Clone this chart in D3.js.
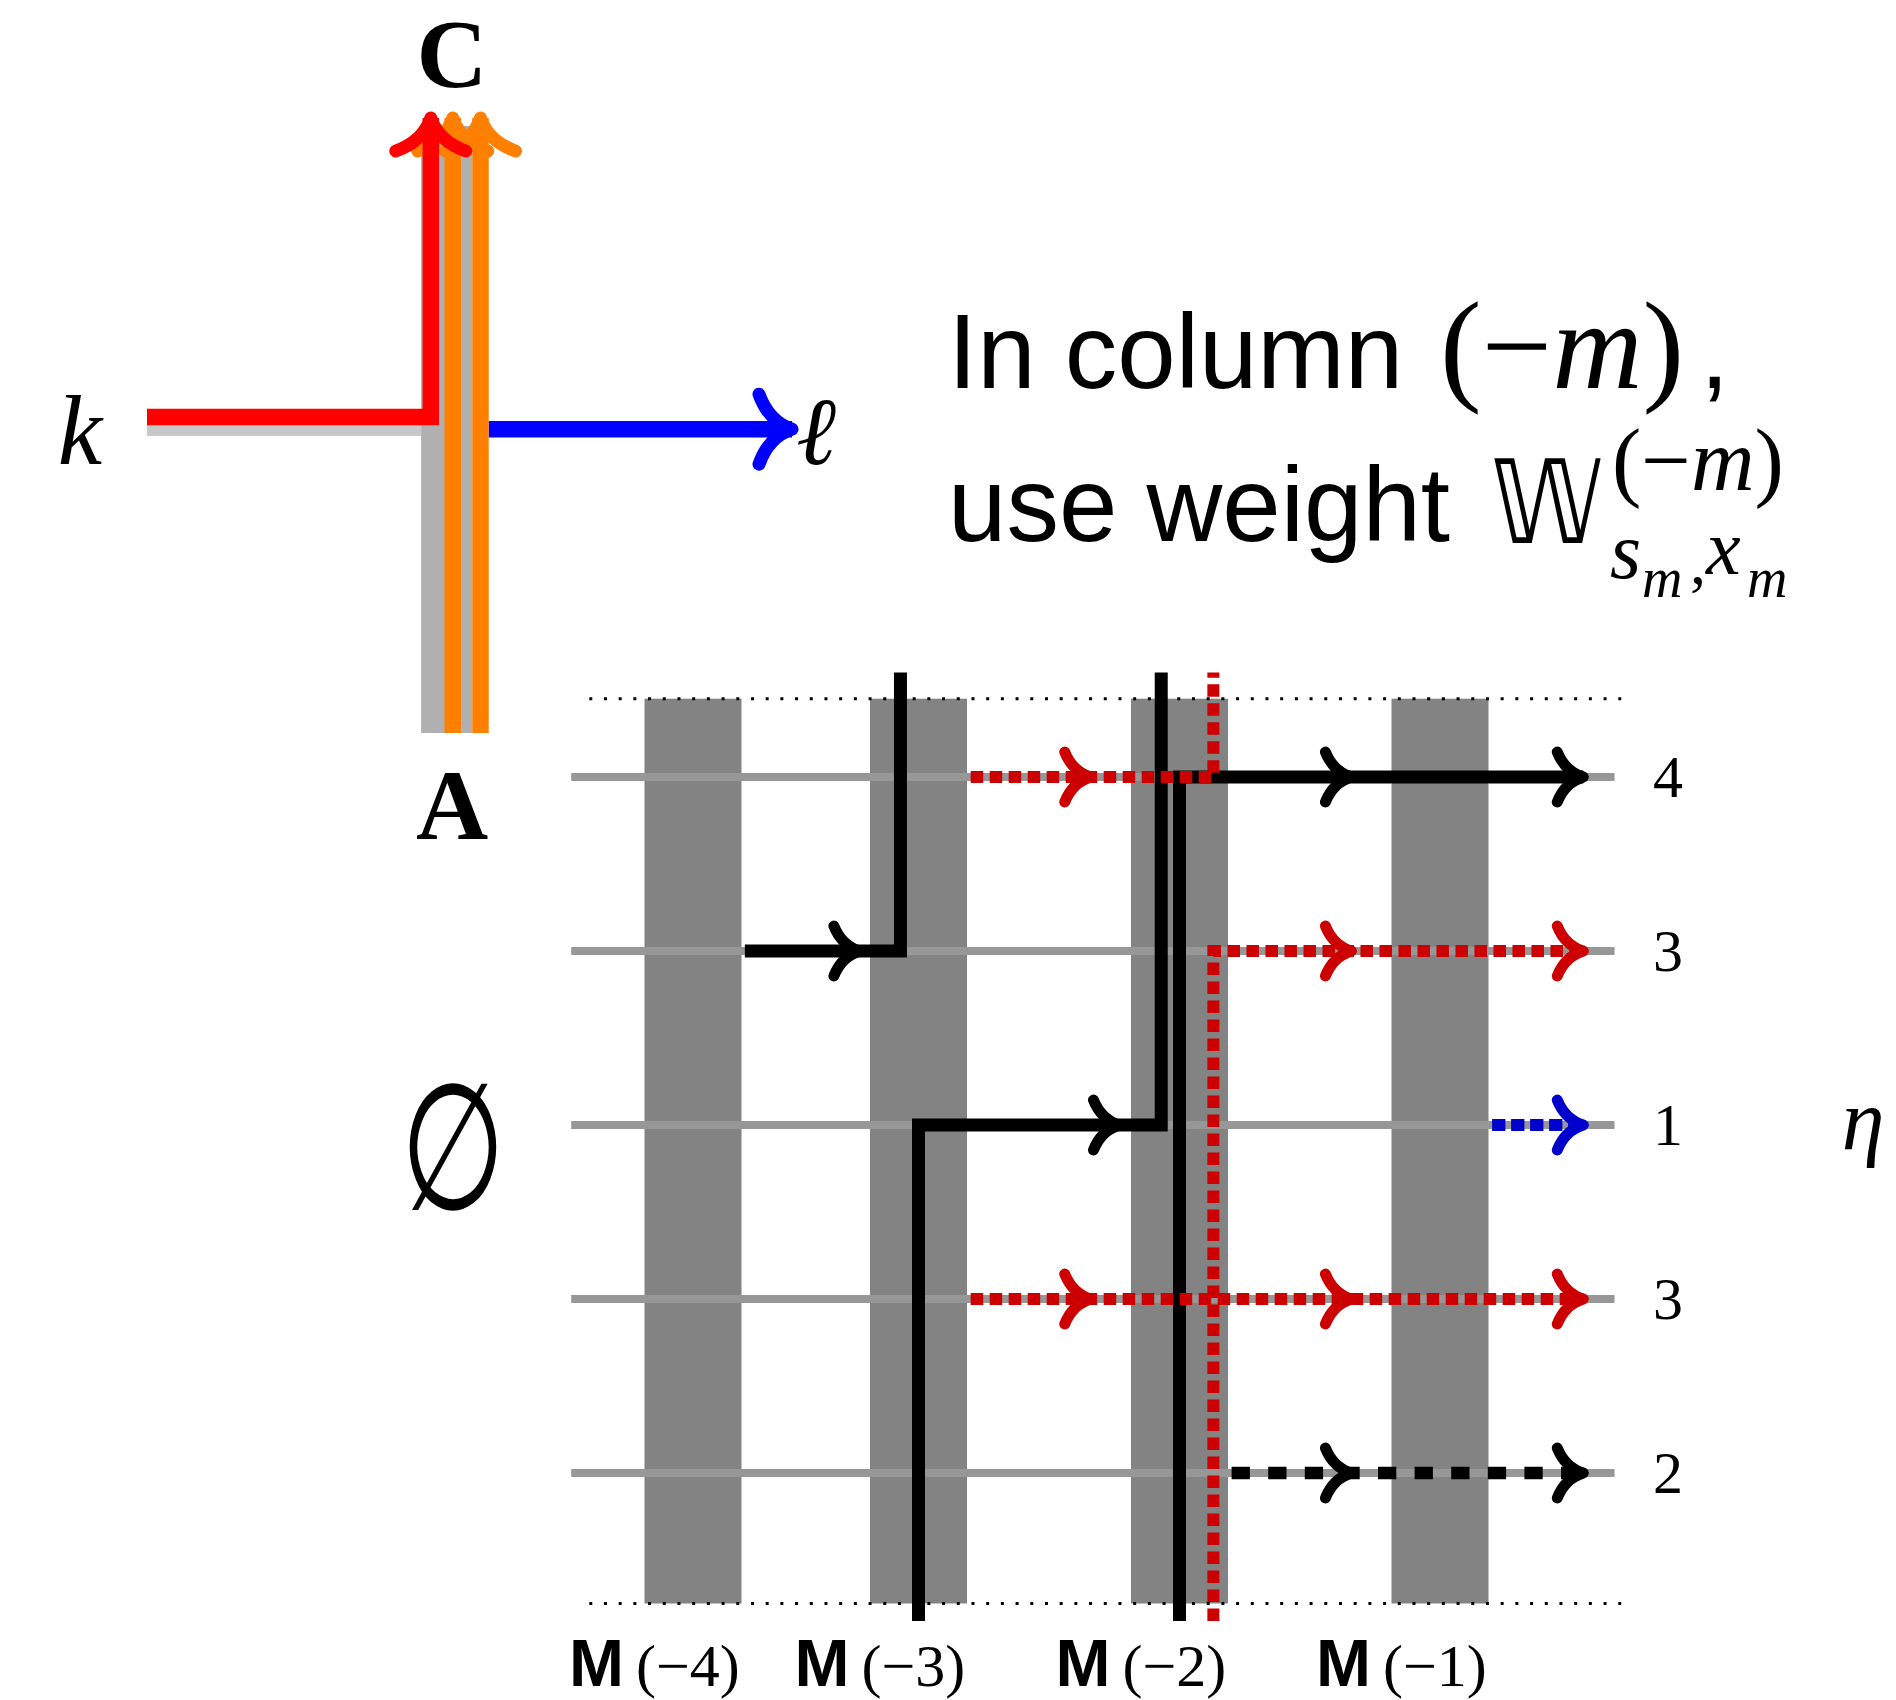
<!DOCTYPE html>
<html>
<head>
<meta charset="utf-8">
<script src="https://d3js.org/d3.v7.min.js"></script>
<style>
  body { margin: 0; background: #fff; }
  svg { display: block; }
</style>
</head>
<body>
<div id="chartContainer"></div>
<script>
// ---- data ----
// lattice columns M(-4) .. M(-1) and the eta label of each row (top to bottom)
var columns = [-4, -3, -2, -1];
var columnLabels = ["\u22124", "\u22123", "\u22122", "\u22121"];
var rowEta = [4, 3, 1, 3, 2];

// paths on the lattice: x in column units, y in row units
var gridPaths = [
  {kind: "black", pts: [[-3.77, 1], [-3.08, 1], [-3.08, -0.6]], arrows: [[-3.26, 1]]},
  {kind: "black", pts: [[-3.0, 4.85], [-3.0, 2], [-2.07, 2], [-2.07, -0.6]], arrows: [[-2.23, 2]]},
  {kind: "black", pts: [[-2.0, 4.85], [-2.0, 0], [-0.45, 0]], arrows: [[-1.34, 0], [-0.45, 0]]},
  {kind: "blackDash", pts: [[-1.8, 4], [-0.45, 4]], arrows: [[-1.34, 4], [-0.45, 4]]},
  {kind: "blue", pts: [[-0.8, 2], [-0.45, 2]], arrows: [[-0.45, 2]]},
  {kind: "red", pts: [[-2.8, 0], [-1.87, 0], [-1.87, -0.6]], arrows: [[-2.34, 0]]},
  {kind: "red", pts: [[-1.87, 4.85], [-1.87, 1], [-0.45, 1]], arrows: [[-1.34, 1], [-0.45, 1]]},
  {kind: "red", pts: [[-2.8, 3], [-0.45, 3]], arrows: [[-2.34, 3], [-1.34, 3], [-0.45, 3]]}
];

// small vertex picture (local units 0..100)
var miniShadows = [
  {color: "#c8c8c8", x0: 0, x1: 42.5, y0: 49.9, y1: 51.7},
  {color: "#b0b0b0", x0: 42.5, x1: 50.4, y0: 1.3, y1: 100}
];
var miniStrands = [
  {color: "#ff7f00", pts: [[47.4, 100], [47.4, 0]]},
  {color: "#ff7f00", pts: [[51.7, 100], [51.7, 0]]},
  {color: "#ff0000", pts: [[0, 48.6], [44, 48.6], [44, 0]]},
  {color: "#0000ff", pts: [[53, 50.6], [100, 50.6]]}
];

// ---- styles ----
var kinds = {
  black:     {color: "#000",    width: 13,   dash: null},
  blackDash: {color: "#000",    width: 12.5, dash: "18.3 18.3"},
  blue:      {color: "#0000cc", width: 12,   dash: "13.3 5.7"},
  red:       {color: "#cc0000", width: 12,   dash: "12.5 6.5"}
};
var serif = "'Liberation Serif', 'DejaVu Serif', serif";
var sans = "'Liberation Sans', Arial, sans-serif";

var svg = d3.select("#chartContainer").append("svg")
  .attr("width", 1896).attr("height", 1700);

// curved LaTeX-like arrow head with its tip at (x, y)
function arrowHead(g, x, y, angle, back, spread, color, width) {
  var p = d3.path();
  p.moveTo(-back, -spread);
  p.quadraticCurveTo(-0.7 * back, -0.22 * spread, 0, 0);
  p.quadraticCurveTo(-0.7 * back, 0.22 * spread, -back, spread);
  g.append("path")
    .attr("d", p.toString())
    .attr("transform", "translate(" + x + "," + y + ") rotate(" + angle + ")")
    .attr("fill", "none")
    .attr("stroke", color)
    .attr("stroke-width", width)
    .attr("stroke-linecap", "round")
    .attr("stroke-linejoin", "round");
}

// ---- vertex picture ----
var mx = d3.scaleLinear().domain([0, 100]).range([147, 792]);
var my = d3.scaleLinear().domain([0, 100]).range([118, 733]);
var mini = svg.append("g");

mini.selectAll("rect.shadow").data(miniShadows).enter().append("rect")
  .attr("class", "shadow")
  .attr("x", function(d) { return mx(d.x0); })
  .attr("y", function(d) { return my(d.y0); })
  .attr("width", function(d) { return mx(d.x1) - mx(d.x0); })
  .attr("height", function(d) { return my(d.y1) - my(d.y0); })
  .attr("fill", function(d) { return d.color; });

var miniLine = d3.line().x(function(d) { return mx(d[0]); }).y(function(d) { return my(d[1]); });
miniStrands.forEach(function(s) {
  mini.append("path")
    .attr("d", miniLine(s.pts))
    .attr("fill", "none")
    .attr("stroke", s.color)
    .attr("stroke-width", 16.5)
    .attr("stroke-linejoin", "miter");
  var a = s.pts[s.pts.length - 2], b = s.pts[s.pts.length - 1];
  var ang = Math.atan2(my(b[1]) - my(a[1]), mx(b[0]) - mx(a[0])) * 180 / Math.PI;
  arrowHead(mini, mx(b[0]), my(b[1]), ang, 33, 35, s.color, 13);
});

mini.append("text").attr("x", 452).attr("y", 87).attr("text-anchor", "middle")
  .attr("font-family", serif).attr("font-weight", "bold").attr("font-size", 98).text("C");
mini.append("text").attr("x", 452).attr("y", 839).attr("text-anchor", "middle")
  .attr("font-family", serif).attr("font-weight", "bold").attr("font-size", 100).text("A");
mini.append("text").attr("x", 80).attr("y", 464).attr("text-anchor", "middle")
  .attr("font-family", serif).attr("font-style", "italic").attr("font-size", 100).text("k");
mini.append("text").attr("x", 796).attr("y", 464)
  .attr("font-family", serif).attr("font-style", "italic").attr("font-size", 96).text("\u2113");

// ---- caption ----
var cap = svg.append("g");
var l1 = cap.append("text").attr("y", 388).attr("font-size", 105).attr("font-family", sans);
l1.append("tspan").attr("x", 948).text("In column");
var m1 = l1.append("tspan").attr("x", 1440).attr("font-family", serif).attr("font-size", 125);
m1.append("tspan").text("(\u2212");
m1.append("tspan").attr("font-style", "italic").text("m");
m1.append("tspan").text(")");
l1.append("tspan").attr("x", 1700).text(",");

cap.append("text").attr("x", 948).attr("y", 541).attr("font-size", 105)
  .attr("font-family", sans).text("use weight");
cap.append("text").attr("x", 1491).attr("y", 543).attr("font-size", 116)
  .attr("font-family", "'DejaVu Sans', sans-serif")
  .attr("textLength", 112).attr("lengthAdjust", "spacingAndGlyphs")
  .text("\uD835\uDD4E");
var sup = cap.append("text").attr("x", 1612).attr("y", 490).attr("font-size", 88).attr("font-family", serif);
sup.append("tspan").text("(\u2212");
sup.append("tspan").attr("font-style", "italic").text("m");
sup.append("tspan").text(")");
var sub = cap.append("g").attr("font-family", serif).attr("font-style", "italic");
sub.append("text").attr("x", 1610).attr("y", 578).attr("font-size", 80).text("s");
sub.append("text").attr("x", 1642).attr("y", 597).attr("font-size", 56).text("m");
sub.append("text").attr("x", 1690).attr("y", 584).attr("font-size", 64).attr("font-style", "normal").text(",");
sub.append("text").attr("x", 1706).attr("y", 574).attr("font-size", 78).text("x");
sub.append("text").attr("x", 1747).attr("y", 597).attr("font-size", 56).text("m");

// ---- lattice ----
var x = d3.scaleLinear().domain(columns).range([693, 918.5, 1179.5, 1440]);
var y = d3.scaleLinear().domain([0, rowEta.length - 1]).range([777, 1473]);
var grid = svg.append("g");
var colW = 97;

grid.selectAll("rect.col").data(columns).enter().append("rect")
  .attr("class", "col")
  .attr("x", function(d) { return x(d) - colW / 2; })
  .attr("y", y(-0.45))
  .attr("width", colW)
  .attr("height", y(4.75) - y(-0.45))
  .attr("fill", "#838383");

grid.selectAll("line.row").data(rowEta).enter().append("line")
  .attr("class", "row")
  .attr("x1", x(-4.54)).attr("x2", x(-0.33))
  .attr("y1", function(d, i) { return y(i); })
  .attr("y2", function(d, i) { return y(i); })
  .attr("stroke", "#979797").attr("stroke-width", 8);

grid.selectAll("line.dots").data([-0.45, 4.75]).enter().append("line")
  .attr("class", "dots")
  .attr("x1", x(-4.46)).attr("x2", x(-0.26))
  .attr("y1", function(d) { return y(d); })
  .attr("y2", function(d) { return y(d); })
  .attr("stroke", "#000").attr("stroke-width", 3)
  .attr("stroke-dasharray", "3 11.7");

var gridLine = d3.line().x(function(d) { return x(d[0]); }).y(function(d) { return y(d[1]); });
gridPaths.forEach(function(p) {
  var k = kinds[p.kind];
  grid.append("path")
    .attr("d", gridLine(p.pts))
    .attr("fill", "none")
    .attr("stroke", k.color)
    .attr("stroke-width", k.width)
    .attr("stroke-dasharray", k.dash)
    .attr("stroke-linejoin", "miter");
  p.arrows.forEach(function(a) {
    arrowHead(grid, x(a[0]), y(a[1]), 0, 26, 25, k.color, 11);
  });
});

// row labels and eta
grid.selectAll("text.eta").data(rowEta).enter().append("text")
  .attr("class", "eta")
  .attr("x", 1668)
  .attr("y", function(d, i) { return y(i) + 20; })
  .attr("text-anchor", "middle")
  .attr("font-family", serif).attr("font-size", 60)
  .text(function(d) { return d; });
grid.append("text").attr("x", 1863).attr("y", y(2) + 24).attr("text-anchor", "middle")
  .attr("font-family", serif).attr("font-style", "italic").attr("font-size", 86).text("\u03b7");

// column labels
var labs = grid.selectAll("text.mlab").data(columns).enter().append("text")
  .attr("class", "mlab")
  .attr("x", function(d) { return x(d) - 124; })
  .attr("y", 1686);
labs.append("tspan").attr("font-family", sans).attr("font-weight", "bold").attr("font-size", 66).text("M");
labs.append("tspan").attr("dx", 12).attr("font-family", serif).attr("font-size", 60)
  .text(function(d, i) { return "(" + columnLabels[i] + ")"; });

// empty set, stretched to the tall oval shape
svg.append("text")
  .attr("transform", "translate(453,1152) scale(0.8,1.18)")
  .attr("y", 48).attr("text-anchor", "middle")
  .attr("font-family", "'DejaVu Sans', sans-serif").attr("font-size", 150).text("\u2205");
</script>
</body>
</html>
